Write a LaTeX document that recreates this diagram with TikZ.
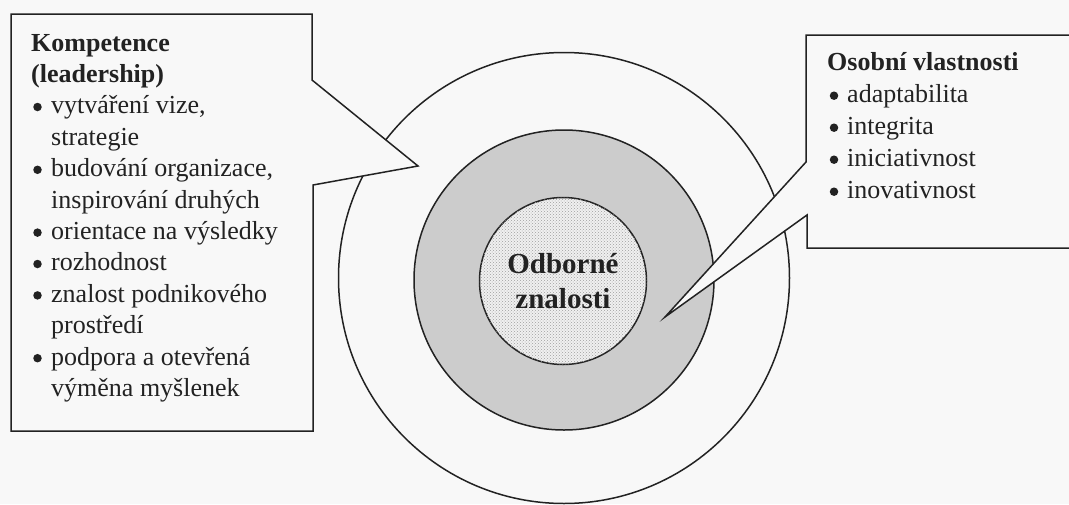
\documentclass[tikz,border=0pt]{standalone}
\usepackage{fontspec}
\setmainfont{Liberation Serif}
\usetikzlibrary{patterns}
\definecolor{ink}{HTML}{222222}
\definecolor{paper}{HTML}{F8F8F8}
\definecolor{ring}{HTML}{CCCCCC}
\begin{document}
\begin{tikzpicture}[x=1pt,y=-1pt,
  outline/.style={draw=ink,line width=1.5pt,line join=miter},
  body/.style={font=\fontsize{26}{31}\selectfont, text=ink, anchor=base west, inner sep=0pt},
  head/.style={body, font=\fontsize{26}{31}\selectfont\bfseries},
  bul/.style={circle, fill=ink, inner sep=0pt, minimum size=8.5pt},
  coretext/.style={font=\fontsize{29}{35}\selectfont\bfseries, text=ink, anchor=base, inner sep=0pt},
  disc/.style={circle, outline, inner sep=0pt}]
\fill[paper] (0,0) rectangle (1069,504);
\useasboundingbox (0,0) rectangle (1069,504);

% three concentric discs
\node[disc, fill=paper, minimum size=451pt] (outer) at (564,278) {};
\node[disc, fill=ring, minimum size=300pt] (middle) at (564,280) {};
\node[disc, fill=gray!12, minimum size=167pt,
      postaction={pattern=crosshatch dots, pattern color=gray!75}] (core) at (563,281) {};
\node[coretext] (odb) at (563,273) {Odborné};
\node[coretext] (zna) at (563,308) {znalosti};

% left callout
\draw[outline, fill=paper] (11,14) -- (312,14) -- (312,80) -- (418,166) -- (313,185)
  -- (313,431) -- (11,431) -- cycle;
\node[head] (k1) at (31,51) {Kompetence};
\node[head] (k2) at (31,82.4) {(leadership)};
\node[bul] (kb1) at (37.5,107) {};
\node[body] (kt1) at (51,113.8) {vytváření vize,};
\node[body] (kt1b) at (51,145.2) {strategie};
\node[bul] (kb2) at (37.5,169.8) {};
\node[body] (kt2) at (51,176.6) {budování organizace,};
\node[body] (kt2b) at (51,208) {inspirování druhých};
\node[bul] (kb3) at (37.5,232.6) {};
\node[body] (kt3) at (51,239.4) {orientace na výsledky};
\node[bul] (kb4) at (37.5,264) {};
\node[body] (kt4) at (51,270.8) {rozhodnost};
\node[bul] (kb5) at (37.5,295.4) {};
\node[body] (kt5) at (51,302.2) {znalost podnikového};
\node[body] (kt5b) at (51,333.6) {prostředí};
\node[bul] (kb6) at (37.5,358.2) {};
\node[body] (kt6) at (51,365) {podpora a otevřená};
\node[body] (kt6b) at (51,396.4) {výměna myšlenek};

% right callout
\draw[outline, fill=paper] (806,35) -- (1080,35) -- (1080,248) -- (807,248) -- (807,215)
  -- (665,317) -- (806,162) -- cycle;
\node[head] (o1) at (827,70.5) {Osobní vlastnosti};
\node[bul] (ob1) at (834,95.7) {};
\node[body] (ot1) at (847,102.5) {adaptabilita};
\node[bul] (ob2) at (834,127.7) {};
\node[body] (ot2) at (847,134.5) {integrita};
\node[bul] (ob3) at (834,159.7) {};
\node[body] (ot3) at (847,166.5) {iniciativnost};
\node[bul] (ob4) at (834,191.7) {};
\node[body] (ot4) at (847,198.5) {inovativnost};
\end{tikzpicture}
\end{document}
